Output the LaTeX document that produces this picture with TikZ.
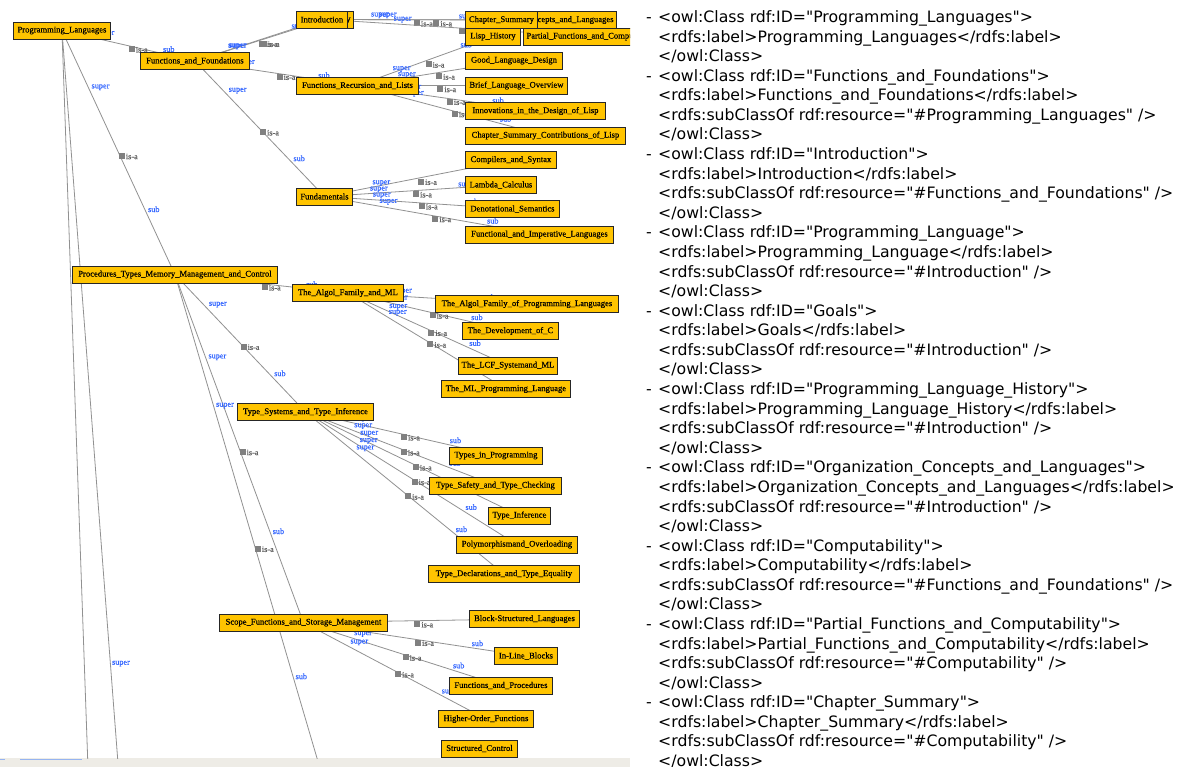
\documentclass[tikz,border=0pt]{standalone}
\usepackage{fontspec}
\setmainfont{Liberation Serif}
\newfontfamily\clsfnt[FakeBold=0.5]{Liberation Serif}
\newfontfamily\owlfnt{DejaVu Sans}
\definecolor{clsfill}{RGB}{255,196,0}
\definecolor{lblblue}{RGB}{51,102,255}
\definecolor{isagray}{RGB}{100,100,100}
\definecolor{edgegray}{RGB}{145,145,145}
\definecolor{mkgray}{RGB}{128,128,128}
\definecolor{stripgray}{RGB}{238,236,230}
\definecolor{scrollblue}{RGB}{150,180,240}
\pgfdeclarelayer{bg}
\pgfsetlayers{bg,main}
\newcommand\isaedge[2]{\draw[edge] (#1.center) -- (#2.center)
  node[mk,pos=.5]{} node[isal,pos=.5]{is-a}
  node[supl,pos=.25]{super} node[subl,pos=.75]{sub};}
\newcommand\owlline[2]{\node[owl] (t#1) at (658,{22.5+(#1-1)*19.58}) {#2};}
\newcommand\owldash[1]{\node[owl] (d#1) at (646,{22.5+(#1-1)*19.58}) {-};}
\begin{document}
\begin{tikzpicture}[x=1pt,y=-1pt,
  cls/.style={draw=black!85, line width=0.9pt, fill=clsfill,
    font=\clsfnt\fontsize{8.6}{10}\selectfont, inner xsep=3pt, inner ysep=0pt,
    minimum height=17pt, anchor=west},
  edge/.style={draw=edgegray, line width=0.8pt},
  mk/.style={fill=mkgray, draw=none, minimum size=6pt, inner sep=0pt, anchor=north west},
  isal/.style={font=\clsfnt\fontsize{8.2}{9}\selectfont, text=isagray, anchor=west, inner sep=0pt, xshift=7pt, yshift=-4pt},
  supl/.style={font=\clsfnt\fontsize{8.2}{9}\selectfont, text=lblblue, anchor=south west, inner sep=1pt},
  subl/.style={font=\clsfnt\fontsize{8.2}{9}\selectfont, text=lblblue, anchor=south west, inner sep=1pt},
  owl/.style={font=\owlfnt\fontsize{15.7}{18}\selectfont, anchor=base west, inner sep=0pt}]
\useasboundingbox (0,0) rectangle (1194,767);
\begin{scope}
\clip (0,0) rectangle (630,758);
% classes
\node[cls, minimum width=97pt] (PL) at (13,30.5) {Programming\_Languages};
\node[cls, minimum width=109pt] (FF) at (140,61) {Functions\_and\_Foundations};
\node[cls, anchor=east] (CMP) at (354,19.5) {Computability};
\node[cls, minimum width=51pt] (INT) at (296,19.5) {Introduction};
\node[cls, anchor=east] (ORG) at (617,20) {Organization\_Concepts\_and\_Languages};
\node[cls, minimum width=72pt] (CS) at (465,20) {Chapter\_Summary};
\node[cls, minimum width=55pt] (LH) at (465,36.5) {Lisp\_History};
\node[cls] (PFC) at (523,36.5) {Partial\_Functions\_and\_Computability};
\node[cls, minimum width=122pt] (FRL) at (296,85.5) {Functions\_Recursion\_and\_Lists};
\node[cls, minimum width=97pt] (GLD) at (465,60.5) {Good\_Language\_Design};
\node[cls, minimum width=102pt] (BLO) at (465,85.5) {Brief\_Language\_Overview};
\node[cls, minimum width=140pt] (ILD) at (465,111) {Innovations\_in\_the\_Design\_of\_Lisp};
\node[cls, minimum width=160pt] (CSCL) at (465,135.5) {Chapter\_Summary\_Contributions\_of\_Lisp};
\node[cls, minimum width=56pt] (FUN) at (296,196.5) {Fundamentals};
\node[cls, minimum width=91pt] (CAS) at (465,160) {Compilers\_and\_Syntax};
\node[cls, minimum width=71pt] (LC) at (465,185) {Lambda\_Calculus};
\node[cls, minimum width=94pt] (DS) at (465,209) {Denotational\_Semantics};
\node[cls, minimum width=148pt] (FIL) at (465,234.5) {Functional\_and\_Imperative\_Languages};
\node[cls, minimum width=205pt] (PTM) at (72,274.5) {Procedures\_Types\_Memory\_Management\_and\_Control};
\node[cls, minimum width=111pt] (AFM) at (292,293) {The\_Algol\_Family\_and\_ML};
\node[cls, minimum width=183pt] (AFP) at (435,304) {The\_Algol\_Family\_of\_Programming\_Languages};
\node[cls, minimum width=96pt] (DOC) at (462,331) {The\_Development\_of\_C};
\node[cls, minimum width=99pt] (LCF) at (458,365.5) {The\_LCF\_Systemand\_ML};
\node[cls, minimum width=129pt] (MLP) at (441,389) {The\_ML\_Programming\_Language};
\node[cls, minimum width=136pt] (TSI) at (237,412) {Type\_Systems\_and\_Type\_Inference};
\node[cls, minimum width=93pt] (TIP) at (449,455.5) {Types\_in\_Programming};
\node[cls, minimum width=132pt] (TSC) at (429,485.5) {Type\_Safety\_and\_Type\_Checking};
\node[cls, minimum width=62pt] (TI) at (488,515.5) {Type\_Inference};
\node[cls, minimum width=121pt] (PO) at (456,544.5) {Polymorphismand\_Overloading};
\node[cls, minimum width=151pt] (TDE) at (428,574) {Type\_Declarations\_and\_Type\_Equality};
\node[cls, minimum width=168pt] (SFS) at (219,622.5) {Scope\_Functions\_and\_Storage\_Management};
\node[cls, minimum width=110pt] (BSL) at (469,619) {Block-Structured\_Languages};
\node[cls, minimum width=63pt] (ILB) at (494,656) {In-Line\_Blocks};
\node[cls, minimum width=103pt] (FAP) at (449,685.5) {Functions\_and\_Procedures};
\node[cls, minimum width=95pt] (HOF) at (438,719) {Higher-Order\_Functions};
\node[cls, minimum width=76pt] (SC) at (441,748.5) {Structured\_Control};
\coordinate (off1) at (182,3430);
\coordinate (off2) at (257,2580);
\coordinate (off3) at (334,816);
\end{scope}
\begin{pgfonlayer}{bg}
\fill[white] (0,0) rectangle (1194,767);
\fill[stripgray] (0,758) rectangle (630,767);
\draw[scrollblue, line width=1pt] (0,759) -- (5,759) (20,759) -- (82,759);
\begin{scope}
\clip (0,0) rectangle (630,758);
\isaedge{PL}{FF}
\isaedge{PL}{PTM}
\isaedge{PL}{off1}
\isaedge{PL}{off2}
\isaedge{FF}{INT}
\isaedge{FF}{CMP}
\isaedge{FF}{FRL}
\isaedge{FF}{FUN}
\isaedge{INT}{ORG}
\isaedge{CMP}{CS}
\isaedge{CMP}{PFC}
\isaedge{FRL}{LH}
\isaedge{FRL}{GLD}
\isaedge{FRL}{BLO}
\isaedge{FRL}{ILD}
\isaedge{FRL}{CSCL}
\isaedge{FUN}{CAS}
\isaedge{FUN}{LC}
\isaedge{FUN}{DS}
\isaedge{FUN}{FIL}
\isaedge{PTM}{AFM}
\isaedge{PTM}{TSI}
\isaedge{PTM}{SFS}
\isaedge{PTM}{off3}
\isaedge{AFM}{AFP}
\isaedge{AFM}{DOC}
\isaedge{AFM}{LCF}
\isaedge{AFM}{MLP}
\isaedge{TSI}{TIP}
\isaedge{TSI}{TSC}
\isaedge{TSI}{TI}
\isaedge{TSI}{PO}
\isaedge{TSI}{TDE}
\isaedge{SFS}{BSL}
\isaedge{SFS}{ILB}
\isaedge{SFS}{FAP}
\isaedge{SFS}{HOF}
\end{scope}
\end{pgfonlayer}
% OWL listing
\owldash{1}\owlline{1}{<owl:Class rdf:ID="Programming\_Languages">}
\owlline{2}{<rdfs:label>Programming\_Languages</rdfs:label>}
\owlline{3}{</owl:Class>}
\owldash{4}\owlline{4}{<owl:Class rdf:ID="Functions\_and\_Foundations">}
\owlline{5}{<rdfs:label>Functions\_and\_Foundations</rdfs:label>}
\owlline{6}{<rdfs:subClassOf rdf:resource="\#Programming\_Languages" />}
\owlline{7}{</owl:Class>}
\owldash{8}\owlline{8}{<owl:Class rdf:ID="Introduction">}
\owlline{9}{<rdfs:label>Introduction</rdfs:label>}
\owlline{10}{<rdfs:subClassOf rdf:resource="\#Functions\_and\_Foundations" />}
\owlline{11}{</owl:Class>}
\owldash{12}\owlline{12}{<owl:Class rdf:ID="Programming\_Language">}
\owlline{13}{<rdfs:label>Programming\_Language</rdfs:label>}
\owlline{14}{<rdfs:subClassOf rdf:resource="\#Introduction" />}
\owlline{15}{</owl:Class>}
\owldash{16}\owlline{16}{<owl:Class rdf:ID="Goals">}
\owlline{17}{<rdfs:label>Goals</rdfs:label>}
\owlline{18}{<rdfs:subClassOf rdf:resource="\#Introduction" />}
\owlline{19}{</owl:Class>}
\owldash{20}\owlline{20}{<owl:Class rdf:ID="Programming\_Language\_History">}
\owlline{21}{<rdfs:label>Programming\_Language\_History</rdfs:label>}
\owlline{22}{<rdfs:subClassOf rdf:resource="\#Introduction" />}
\owlline{23}{</owl:Class>}
\owldash{24}\owlline{24}{<owl:Class rdf:ID="Organization\_Concepts\_and\_Languages">}
\owlline{25}{<rdfs:label>Organization\_Concepts\_and\_Languages</rdfs:label>}
\owlline{26}{<rdfs:subClassOf rdf:resource="\#Introduction" />}
\owlline{27}{</owl:Class>}
\owldash{28}\owlline{28}{<owl:Class rdf:ID="Computability">}
\owlline{29}{<rdfs:label>Computability</rdfs:label>}
\owlline{30}{<rdfs:subClassOf rdf:resource="\#Functions\_and\_Foundations" />}
\owlline{31}{</owl:Class>}
\owldash{32}\owlline{32}{<owl:Class rdf:ID="Partial\_Functions\_and\_Computability">}
\owlline{33}{<rdfs:label>Partial\_Functions\_and\_Computability</rdfs:label>}
\owlline{34}{<rdfs:subClassOf rdf:resource="\#Computability" />}
\owlline{35}{</owl:Class>}
\owldash{36}\owlline{36}{<owl:Class rdf:ID="Chapter\_Summary">}
\owlline{37}{<rdfs:label>Chapter\_Summary</rdfs:label>}
\owlline{38}{<rdfs:subClassOf rdf:resource="\#Computability" />}
\owlline{39}{</owl:Class>}
\end{tikzpicture}
\end{document}
